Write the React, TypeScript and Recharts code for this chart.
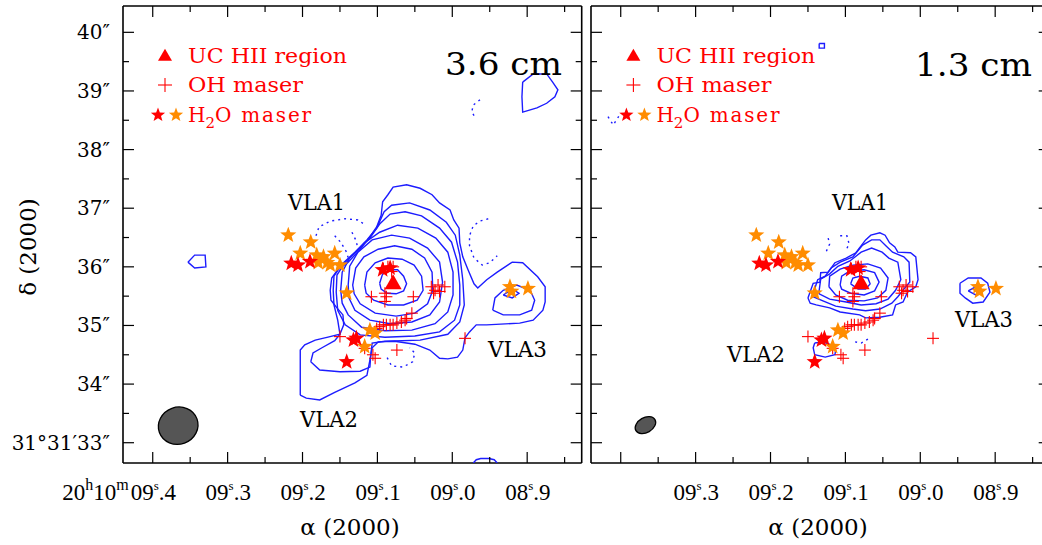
import React from 'react';
import { ScatterChart, Scatter, XAxis, YAxis } from 'recharts';

type Pt = [number, number];

// RA = seconds after 20h10m, Dec = arcsec after +31°31'
const raDomain: [number, number] = [8.8272, 9.4397];
const decDomain: [number, number] = [32.654, 40.449];
const raTicks = [8.85, 8.9, 8.95, 9.0, 9.05, 9.1, 9.15, 9.2, 9.25, 9.3, 9.35, 9.4];
const raMajor = [8.9, 9.0, 9.1, 9.2, 9.3, 9.4];
const raTickText = ['08.9', '09.0', '09.1', '09.2', '09.3', '09.4'];
const decTicks = [33, 33.5, 34, 34.5, 35, 35.5, 36, 36.5, 37, 37.5, 38, 38.5, 39, 39.5, 40];
const decMajor = [33, 34, 35, 36, 37, 38, 39, 40];
const decTickText = ['31°31′33″', '34″', '35″', '36″', '37″', '38″', '39″', '40″'];

// ---- 3.6 cm contours ----
const outer36: Pt[] = [
  [9.203, 33.81], [9.203, 34.58], [9.197, 34.67], [9.183, 34.75], [9.166, 34.8], [9.15, 34.85],
  [9.145, 35.01], [9.146, 35.18], [9.154, 35.3], [9.162, 35.43], [9.163, 35.6], [9.161, 35.81],
  [9.153, 35.95], [9.139, 36.08], [9.123, 36.3], [9.11, 36.51], [9.101, 36.68], [9.095, 36.88],
  [9.093, 37.11], [9.086, 37.23], [9.079, 37.36], [9.061, 37.4], [9.043, 37.34], [9.027, 37.23],
  [9.017, 37.09], [9.003, 36.97], [8.998, 36.8], [8.991, 36.66], [8.99, 36.41], [8.986, 36.17],
  [8.979, 35.95], [8.971, 35.71], [8.966, 35.64], [8.954, 35.78], [8.94, 35.91], [8.92, 36.08],
  [8.906, 36.07], [8.886, 35.83], [8.876, 35.66], [8.876, 35.4], [8.879, 35.26], [8.892, 35.09],
  [8.91, 35.04], [8.954, 35.01], [8.968, 35.01], [8.977, 34.89], [8.983, 34.79], [8.986, 34.58],
  [8.993, 34.46], [9.006, 34.43], [9.017, 34.44], [9.03, 34.58], [9.05, 34.68], [9.077, 34.73],
  [9.099, 34.72], [9.107, 34.62], [9.11, 34.41], [9.114, 34.15], [9.13, 34.02], [9.157, 33.86],
  [9.177, 33.73], [9.195, 33.76], [9.203, 33.81],
];
const second36: Pt[] = [
  [9.189, 34.38], [9.186, 34.53], [9.174, 34.62], [9.157, 34.74], [9.15, 34.85], [9.153, 35.09],
  [9.158, 35.35], [9.159, 35.6], [9.158, 35.84], [9.147, 36.05], [9.13, 36.25], [9.114, 36.46],
  [9.101, 36.66], [9.091, 36.94], [9.081, 37.05], [9.057, 37.09], [9.03, 36.97], [9.008, 36.76],
  [8.996, 36.54], [8.99, 36.2], [8.986, 35.78], [8.984, 35.35], [8.99, 35.06], [9.006, 34.85],
  [9.043, 34.75], [9.09, 34.73], [9.107, 34.7], [9.109, 34.48], [9.11, 34.29], [9.123, 34.22],
  [9.15, 34.21], [9.177, 34.24], [9.189, 34.38],
];
const vla3Inner36: Pt[] = [
  [8.946, 35.26], [8.943, 35.47], [8.932, 35.6], [8.914, 35.69], [8.896, 35.6], [8.89, 35.43],
  [8.894, 35.26], [8.91, 35.18], [8.932, 35.18], [8.946, 35.26],
];
const vla3Core36: Pt[] = [[8.932, 35.52], [8.92, 35.62], [8.911, 35.55], [8.92, 35.47], [8.932, 35.52]];
const ring1: Pt[] = [
  [9.097, 35.72], [9.093, 35.88], [9.083, 35.95], [9.073, 35.95], [9.065, 35.84], [9.061, 35.71],
  [9.065, 35.59], [9.075, 35.54], [9.087, 35.55], [9.095, 35.62], [9.097, 35.72],
];
const ring2: Pt[] = [
  [9.117, 35.69], [9.114, 35.91], [9.103, 36.07], [9.086, 36.15], [9.067, 36.13], [9.051, 36.03],
  [9.041, 35.84], [9.039, 35.6], [9.047, 35.43], [9.065, 35.35], [9.086, 35.35], [9.105, 35.43],
  [9.115, 35.55], [9.117, 35.69],
];
const ring3: Pt[] = [
  [9.133, 35.69], [9.129, 35.98], [9.118, 36.17], [9.099, 36.3], [9.077, 36.36], [9.054, 36.3],
  [9.037, 36.15], [9.027, 35.91], [9.026, 35.6], [9.033, 35.37], [9.05, 35.21], [9.075, 35.16],
  [9.103, 35.21], [9.123, 35.37], [9.131, 35.54], [9.133, 35.69],
];
const ring4: Pt[] = [
  [9.139, 35.69], [9.137, 36.01], [9.126, 36.25], [9.107, 36.46], [9.081, 36.54], [9.057, 36.49],
  [9.033, 36.32], [9.017, 36.08], [9.013, 35.74], [9.017, 35.4], [9.03, 35.18], [9.054, 35.06],
  [9.083, 35.03], [9.11, 35.09], [9.13, 35.26], [9.138, 35.47], [9.139, 35.69],
];
const ring5: Pt[] = [
  [9.149, 35.6], [9.147, 35.91], [9.137, 36.15], [9.117, 36.41], [9.097, 36.59], [9.073, 36.71],
  [9.046, 36.66], [9.022, 36.49], [9.006, 36.25], [8.999, 35.91], [8.999, 35.52], [9.006, 35.23],
  [9.023, 35.03], [9.054, 34.92], [9.09, 34.91], [9.121, 34.97], [9.139, 35.18], [9.147, 35.38],
  [9.149, 35.6],
];
const ring6: Pt[] = [
  [9.155, 35.57], [9.154, 35.86], [9.143, 36.08], [9.126, 36.29], [9.11, 36.49], [9.097, 36.73],
  [9.083, 36.9], [9.063, 36.94], [9.041, 36.87], [9.017, 36.66], [9.001, 36.42], [8.993, 36.08],
  [8.99, 35.69], [8.99, 35.35], [8.997, 35.09], [9.017, 34.89], [9.05, 34.82], [9.09, 34.8],
  [9.123, 34.84], [9.143, 35.01], [9.153, 35.26], [9.155, 35.57],
];
const westBlob36: Pt[] = [[9.353, 36.08], [9.344, 36.2], [9.33, 36.2], [9.329, 36.0], [9.344, 35.98], [9.353, 36.08]];
const northEast36: Pt[] = [
  [8.906, 39.15], [8.892, 39.29], [8.874, 39.29], [8.866, 39.15], [8.859, 39.02], [8.863, 38.9],
  [8.874, 38.79], [8.887, 38.71], [8.906, 38.64], [8.907, 38.9], [8.906, 39.15],
];
const southEdge36: Pt[] = [[8.972, 32.655], [8.968, 32.71], [8.962, 32.73], [8.951, 32.73], [8.944, 32.71], [8.94, 32.655]];
const neg36a: Pt[] = [[9.182, 36.53], [9.178, 36.68], [9.163, 36.78], [9.143, 36.82], [9.126, 36.8], [9.118, 36.73]];
const neg36b: Pt[] = [[9.157, 36.53], [9.149, 36.42], [9.142, 36.27], [9.138, 36.12]];
const neg36c: Pt[] = [[9.134, 36.59], [9.129, 36.46], [9.126, 36.32]];
const neg36d: Pt[] = [
  [8.952, 36.82], [8.963, 36.78], [8.972, 36.7], [8.977, 36.53], [8.977, 36.36], [8.971, 36.15],
  [8.96, 36.03], [8.95, 36.07], [8.94, 36.19],
];
const neg36e: Pt[] = [[9.087, 34.45], [9.081, 34.31], [9.066, 34.29], [9.053, 34.38], [9.05, 34.53], [9.057, 34.62]];
const neg36f: Pt[] = [[8.963, 38.85], [8.972, 38.76], [8.974, 38.64], [8.97, 38.56]];

// ---- 1.3 cm contours ----
const r13a: Pt[] = [
  [9.15, 35.47], [9.143, 35.72], [9.134, 35.74], [9.133, 35.9], [9.123, 35.91], [9.114, 36.07],
  [9.099, 36.15], [9.086, 36.24], [9.073, 36.46], [9.066, 36.54], [9.054, 36.58], [9.047, 36.54],
  [9.041, 36.41], [9.034, 36.34], [9.03, 36.25], [9.013, 36.24], [9.006, 36.17], [9.003, 35.78],
  [9.006, 35.66], [9.017, 35.57], [9.023, 35.4], [9.033, 35.35], [9.037, 35.18], [9.054, 35.14],
  [9.073, 35.13], [9.081, 35.18], [9.107, 35.23], [9.121, 35.3], [9.139, 35.35], [9.147, 35.38],
  [9.15, 35.47],
];
const r13b: Pt[] = [
  [9.143, 35.55], [9.137, 35.78], [9.127, 35.84], [9.119, 35.98], [9.107, 36.08], [9.09, 36.17],
  [9.077, 36.37], [9.065, 36.46], [9.054, 36.46], [9.046, 36.36], [9.037, 36.25], [9.022, 36.17],
  [9.015, 36.08], [9.014, 35.74], [9.022, 35.62], [9.03, 35.49], [9.038, 35.38], [9.054, 35.28],
  [9.073, 35.25], [9.09, 35.28], [9.113, 35.33], [9.13, 35.42], [9.143, 35.49], [9.143, 35.55],
];
const r13c: Pt[] = [
  [9.135, 35.6], [9.133, 35.79], [9.121, 35.88], [9.11, 36.01], [9.094, 36.1], [9.079, 36.25],
  [9.065, 36.32], [9.051, 36.25], [9.042, 36.15], [9.03, 36.08], [9.026, 35.78], [9.033, 35.6],
  [9.043, 35.45], [9.059, 35.37], [9.079, 35.35], [9.099, 35.4], [9.121, 35.45], [9.135, 35.54],
  [9.135, 35.6],
];
const r13d: Pt[] = [
  [9.122, 35.66], [9.121, 35.84], [9.107, 35.96], [9.09, 36.03], [9.07, 36.05], [9.053, 35.98],
  [9.043, 35.81], [9.046, 35.6], [9.057, 35.47], [9.075, 35.42], [9.097, 35.43], [9.113, 35.52],
  [9.122, 35.66],
];
const r13e: Pt[] = [
  [9.107, 35.69], [9.105, 35.84], [9.094, 35.93], [9.075, 35.95], [9.061, 35.9], [9.055, 35.74],
  [9.061, 35.59], [9.075, 35.52], [9.093, 35.55], [9.105, 35.62], [9.107, 35.69],
];
const r13f: Pt[] = [[9.093, 35.71], [9.09, 35.81], [9.081, 35.84], [9.07, 35.81], [9.067, 35.71], [9.073, 35.62], [9.083, 35.62], [9.093, 35.71]];
const vla2Ring13: Pt[] = [[9.141, 34.7], [9.13, 34.72], [9.119, 34.67], [9.113, 34.58], [9.114, 34.5], [9.127, 34.46], [9.141, 34.5], [9.143, 34.62], [9.141, 34.7]];
const vla3Ring13: Pt[] = [[8.947, 35.72], [8.936, 35.81], [8.919, 35.81], [8.91, 35.72], [8.907, 35.57], [8.916, 35.4], [8.93, 35.38], [8.94, 35.47], [8.947, 35.55], [8.947, 35.72]];
const vla3Core13: Pt[] = [[8.936, 35.59], [8.926, 35.66], [8.918, 35.61], [8.926, 35.52], [8.936, 35.59]];
const northSpot13: Pt[] = [[9.135, 39.81], [9.128, 39.81], [9.128, 39.73], [9.135, 39.73], [9.135, 39.81]];
const neg13a: Pt[] = [[9.123, 36.49], [9.121, 36.39], [9.126, 36.25]];
const neg13b: Pt[] = [[9.107, 36.53], [9.098, 36.53], [9.095, 36.39], [9.099, 36.29]];
const neg13c: Pt[] = [[9.087, 34.72], [9.079, 34.7], [9.067, 34.79]];
const neg13d: Pt[] = [[9.417, 38.56], [9.41, 38.42], [9.404, 38.54], [9.4, 38.62]];

// ---- masers and sources ----
const ucHii: Pt[] = [[9.079, 35.72]];
const ohMaser: Pt[] = [
  [9.092, 35.97], [9.086, 36.0], [9.081, 35.92], [9.079, 36.0], [9.108, 35.49], [9.09, 35.55],
  [9.088, 35.49], [9.09, 35.41], [9.052, 35.49], [9.028, 35.66], [9.023, 35.6], [9.019, 35.69],
  [9.017, 35.58], [9.01, 35.66], [9.025, 35.55], [9.101, 34.95], [9.097, 34.98], [9.092, 35.01],
  [9.088, 35.01], [9.083, 35.01], [9.079, 35.01], [9.074, 35.04], [9.068, 35.06], [9.063, 35.09],
  [9.061, 35.12], [9.054, 35.21], [9.15, 34.81], [9.117, 34.61], [9.106, 34.5], [9.103, 34.44],
  [9.074, 34.58], [8.983, 34.78],
];
const h2oOrange: Pt[] = [
  [9.219, 36.54], [9.189, 36.42], [9.203, 36.23], [9.181, 36.2], [9.172, 36.17], [9.157, 36.23],
  [9.179, 36.07], [9.167, 36.07], [9.163, 36.03], [9.15, 36.03], [9.141, 35.55], [9.11, 34.92],
  [9.103, 34.87], [9.117, 34.64], [8.923, 35.66], [8.921, 35.58], [8.899, 35.63],
];
const h2oRed: Pt[] = [
  [9.215, 36.06], [9.206, 36.03], [9.19, 36.09], [9.093, 35.95], [9.083, 35.98], [9.132, 34.75],
  [9.128, 34.78], [9.141, 34.38],
];
const beam36: Pt[] = [[9.366, 33.29]];
const beam13: Pt[] = [[9.367, 33.3]];

const BLUE = '#1c1cff';
const RED = '#ff0000';
const ORANGE = '#ff8c00';
const SERIF = "'DejaVu Serif', serif";
const NUMF = "'Liberation Serif', serif";

const toPts = (c: Pt[]) => c.map(([x, y]) => ({ x, y }));
const near = (a: number, b: number) => Math.abs(a - b) < 1e-6;

const starPath = (cx: number, cy: number, R: number) => {
  let d = '';
  for (let i = 0; i < 10; i++) {
    const r = i % 2 === 0 ? R : R * 0.42;
    const a = -Math.PI / 2 + (i * Math.PI) / 5;
    d += (i ? 'L' : 'M') + (cx + r * Math.cos(a)).toFixed(2) + ',' + (cy + r * Math.sin(a)).toFixed(2);
  }
  return d + 'Z';
};

const Star = ({ cx, cy, fill, r = 8.5 }: any) => <path d={starPath(cx, cy, r)} fill={fill} />;
const Cross = ({ cx, cy, s = 6 }: any) => (
  <g stroke={RED} strokeWidth={1.1}>
    <line x1={cx - s} y1={cy} x2={cx + s} y2={cy} />
    <line x1={cx} y1={cy - s} x2={cx} y2={cy + s} />
  </g>
);
const Tri = ({ cx, cy, w = 17, h = 15 }: any) => (
  <path d={`M${cx},${cy - h * 0.6}L${cx - w / 2},${cy + h * 0.4}L${cx + w / 2},${cy + h * 0.4}Z`} fill={RED} />
);
const noShape = () => <g />;

const bottomTick = (labels: boolean, prefix: boolean, skip: string[]) => (p: any) => {
  const v = p.payload.value;
  const mi = raMajor.findIndex((m) => near(m, v));
  const len = mi >= 0 ? 11 : 6;
  const txt = mi >= 0 ? raTickText[mi] : '';
  const show = labels && mi >= 0 && !skip.includes(txt);
  const [sec, frac] = txt.split('.');
  return (
    <g>
      <line x1={p.x} y1={p.y} x2={p.x} y2={p.y - len} stroke="#000" strokeWidth={1.2} />
      {show && (
        <text x={p.x - 22} y={p.y + 37} fontFamily={NUMF} fontSize={23} fill="#000">
          {sec}
          <tspan dy={-10} fontSize={13}>s</tspan>
          <tspan dy={10}>.{frac}</tspan>
        </text>
      )}
      {show && prefix && near(v, 9.4) && (
        <text x={p.x - 24} y={p.y + 37} textAnchor="end" fontFamily={NUMF} fontSize={23} fill="#000">
          20<tspan dy={-10} fontSize={16}>h</tspan>
          <tspan dy={10}>10</tspan>
          <tspan dy={-10} fontSize={16}>m</tspan>
        </text>
      )}
    </g>
  );
};
const topTick = (p: any) => {
  const len = raMajor.some((m) => near(m, p.payload.value)) ? 11 : 6;
  return <line x1={p.x} y1={p.y} x2={p.x} y2={p.y + len} stroke="#000" strokeWidth={1.2} />;
};
const leftTick = (labels: boolean) => (p: any) => {
  const v = p.payload.value;
  const mi = decMajor.findIndex((m) => near(m, v));
  const len = mi >= 0 ? 11 : 6;
  return (
    <g>
      <line x1={p.x} y1={p.y} x2={p.x + len} y2={p.y} stroke="#000" strokeWidth={1.2} />
      {labels && mi >= 0 && (
        <text x={p.x - 13} y={p.y + 7} textAnchor="end" fontFamily={SERIF} fontSize={20} fill="#000">
          {decTickText[mi]}
        </text>
      )}
    </g>
  );
};
const rightTick = (p: any) => {
  const len = decMajor.some((m) => near(m, p.payload.value)) ? 11 : 6;
  return <line x1={p.x} y1={p.y} x2={p.x - len} y2={p.y} stroke="#000" strokeWidth={1.2} />;
};

const frame = { stroke: '#000', strokeWidth: 1.6 };

interface PanelProps {
  left: number;
  solid: Pt[][];
  dashed: Pt[][];
  beam: Pt[];
  beamRx: number;
  beamRy: number;
  beamAngle: number;
  decLabels: boolean;
  prefix: boolean;
  skip: string[];
}

const Panel: React.FC<PanelProps> = ({ left, solid, dashed, beam, beamRx, beamRy, beamAngle, decLabels, prefix, skip }) => (
  <div style={{ position: 'absolute', left, top: 0 }}>
    <ScatterChart width={600} height={545} margin={{ top: 5, right: 17.3, bottom: 0, left: 0 }}>
      <XAxis xAxisId="b" type="number" dataKey="x" domain={raDomain} reversed allowDataOverflow
        ticks={raTicks} interval={0} height={82} tickSize={0} tickMargin={0} tickLine={false}
        axisLine={frame} tick={bottomTick(true, prefix, skip)} />
      <XAxis xAxisId="t" orientation="top" type="number" dataKey="x" domain={raDomain} reversed allowDataOverflow
        ticks={raTicks} interval={0} height={1} tickSize={0} tickMargin={0} tickLine={false}
        axisLine={frame} tick={topTick} />
      <YAxis yAxisId="l" type="number" dataKey="y" domain={decDomain} allowDataOverflow
        ticks={decTicks} interval={0} width={123} tickSize={0} tickMargin={0} tickLine={false}
        axisLine={frame} tick={leftTick(decLabels)} />
      <YAxis yAxisId="r" orientation="right" type="number" dataKey="y" domain={decDomain} allowDataOverflow
        ticks={decTicks} interval={0} width={1} tickSize={0} tickMargin={0} tickLine={false}
        axisLine={frame} tick={rightTick} />
      {solid.map((c, i) => (
        <Scatter key={'c' + i} xAxisId="b" yAxisId="l" data={toPts(c)} fill={BLUE} shape={noShape}
          line={{ stroke: BLUE, strokeWidth: 1.4 }} isAnimationActive={false} />
      ))}
      {dashed.map((c, i) => (
        <Scatter key={'d' + i} xAxisId="b" yAxisId="l" data={toPts(c)} fill={BLUE} shape={noShape}
          line={{ stroke: BLUE, strokeWidth: 1.4, strokeDasharray: '2 4' }} isAnimationActive={false} />
      ))}
      <Scatter xAxisId="b" yAxisId="l" data={toPts(beam)} isAnimationActive={false}
        shape={(p: any) => (
          <ellipse cx={p.cx} cy={p.cy} rx={beamRx} ry={beamRy} fill="#555" stroke="#000" strokeWidth={1.3}
            transform={`rotate(${beamAngle} ${p.cx} ${p.cy})`} />
        )} />
      <Scatter xAxisId="b" yAxisId="l" data={toPts(ohMaser)} isAnimationActive={false} shape={(p: any) => <Cross cx={p.cx} cy={p.cy} />} />
      <Scatter xAxisId="b" yAxisId="l" data={toPts(h2oOrange)} isAnimationActive={false} shape={(p: any) => <Star cx={p.cx} cy={p.cy} fill={ORANGE} />} />
      <Scatter xAxisId="b" yAxisId="l" data={toPts(h2oRed)} isAnimationActive={false} shape={(p: any) => <Star cx={p.cx} cy={p.cy} fill={RED} />} />
      <Scatter xAxisId="b" yAxisId="l" data={toPts(ucHii)} isAnimationActive={false} shape={(p: any) => <Tri cx={p.cx} cy={p.cy} />} />
    </ScatterChart>
  </div>
);

const Legend: React.FC<{ dx: number }> = ({ dx }) => (
  <g fontFamily={SERIF} fontSize={20} fill={RED}>
    <Tri cx={165 + dx} cy={56} w={14} h={12} />
    <text x={188 + dx} y={63} textLength={159} lengthAdjust="spacingAndGlyphs">UC HII region</text>
    <Cross cx={165 + dx} cy={85} s={7} />
    <text x={188 + dx} y={92} textLength={115} lengthAdjust="spacingAndGlyphs">OH maser</text>
    <Star cx={158 + dx} cy={115} fill={RED} r={7.5} />
    <Star cx={176 + dx} cy={115} fill={ORANGE} r={7.5} />
    <text x={188 + dx} y={122}>
      H<tspan dy={6} fontSize={15}>2</tspan>
      <tspan dy={-6} letterSpacing={1.8}>O maser</tspan>
    </text>
  </g>
);

const App: React.FC = () => (
  <div style={{ position: 'absolute', left: 0, top: 0, width: 1042, height: 545, overflow: 'hidden', background: '#fff' }}>
    <Panel left={0}
      solid={[outer36, second36, vla3Inner36, vla3Core36, ring1, ring2, ring3, ring4, ring5, ring6, westBlob36, northEast36, southEdge36]}
      dashed={[neg36a, neg36b, neg36c, neg36d, neg36e, neg36f]}
      beam={beam36} beamRx={20} beamRy={18.5} beamAngle={-20} decLabels prefix skip={[]} />
    <Panel left={468.4}
      solid={[r13a, r13b, r13c, r13d, r13e, r13f, vla2Ring13, vla3Ring13, vla3Core13, northSpot13]}
      dashed={[neg13a, neg13b, neg13c, neg13d]}
      beam={beam13} beamRx={11} beamRy={7.5} beamAngle={-30} decLabels={false} prefix={false} skip={['09.4']} />
    <svg width={1042} height={545} style={{ position: 'absolute', left: 0, top: 0, pointerEvents: 'none' }}>
      <Legend dx={0} />
      <Legend dx={468.4} />
      <g fontFamily={SERIF} fill="#000">
        <text x={445} y={75} fontSize={31} textLength={117} lengthAdjust="spacingAndGlyphs">3.6 cm</text>
        <text x={915} y={76} fontSize={31} textLength={117} lengthAdjust="spacingAndGlyphs">1.3 cm</text>
        <text x={288} y={210} fontSize={23} textLength={57} lengthAdjust="spacingAndGlyphs">VLA1</text>
        <text x={300} y={427} fontSize={23} textLength={58} lengthAdjust="spacingAndGlyphs">VLA2</text>
        <text x={488} y={357} fontSize={23} textLength={59} lengthAdjust="spacingAndGlyphs">VLA3</text>
        <text x={832} y={210} fontSize={23} textLength={56} lengthAdjust="spacingAndGlyphs">VLA1</text>
        <text x={727} y={362} fontSize={23} textLength={58} lengthAdjust="spacingAndGlyphs">VLA2</text>
        <text x={955} y={327} fontSize={23} textLength={58} lengthAdjust="spacingAndGlyphs">VLA3</text>
        <text x={350} y={535} fontSize={23} textAnchor="middle">α (2000)</text>
        <text x={818} y={535} fontSize={23} textAnchor="middle">α (2000)</text>
        <text x={0} y={0} fontSize={23} textAnchor="middle" transform="translate(36 247) rotate(-90)">δ (2000)</text>
      </g>
    </svg>
  </div>
);

export default App;
